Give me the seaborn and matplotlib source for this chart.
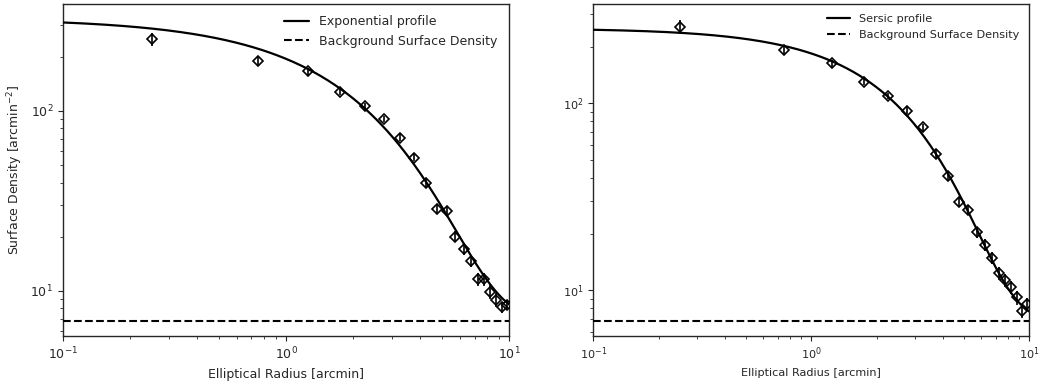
import numpy as np
import pandas as pd
import matplotlib
matplotlib.use("Agg")
import matplotlib.pyplot as plt
import seaborn as sns
from matplotlib.lines import Line2D

# Binned surface-density profile (elliptical radius in arcmin)
radius = [0.25, 0.75, 1.25, 1.75, 2.25, 2.75, 3.25, 3.75, 4.25, 4.75,
          5.25, 5.75, 6.25, 6.75, 7.25, 7.75, 8.25, 8.75, 9.25, 9.75]

density_exp = [251, 189, 166, 127.5, 106, 90.3, 71.1, 55.1, 39.6, 28.6,
               27.7, 20.0, 17.1, 14.6, 11.6, 11.6, 9.9, 8.9, 8.1, 8.4]
err_exp = [20, 10, 7, 5.5, 4.5, 3.8, 3.2, 2.7, 2.2, 1.8,
           1.7, 1.4, 1.3, 1.1, 1.0, 0.95, 0.85, 0.8, 0.6, 0.5]

density_ser = [257, 193, 164, 130.5, 109.5, 91.3, 74.3, 53.4, 41, 29.7,
               26.8, 20.5, 17.5, 14.9, 12.3, 11.3, 10.4, 9.15, 7.74, 8.4]
err_ser = [22, 12, 7, 5.5, 4.5, 3.8, 3.2, 2.7, 2.2, 1.8,
           1.7, 1.4, 1.3, 1.1, 1.0, 0.95, 0.85, 0.8, 0.65, 0.65]

# Fitted model parameters
background = 6.85
exp_sigma0, exp_scale = 320.0, 1.88
ser_sigma0, ser_r0, ser_n = 245.0, 2.49, 0.8


def exponential_profile(r):
    return exp_sigma0 * np.exp(-r / exp_scale) + background


def sersic_profile(r):
    return ser_sigma0 * np.exp(-(r / ser_r0) ** (1.0 / ser_n)) + background


sns.set_style("ticks")
plt.rcParams.update({
    "font.family": ["DejaVu Sans"],
    "axes.edgecolor": "0.15",
    "axes.linewidth": 1.0,
    "xtick.major.size": 3.5, "ytick.major.size": 3.5,
    "xtick.minor.size": 2.0, "ytick.minor.size": 2.0,
    "xtick.color": "0.15", "ytick.color": "0.15",
})

fig = plt.figure(figsize=(10.39, 3.85), dpi=100)
ax1 = fig.add_axes([0.0606, 0.1273, 0.4294, 0.8623])
ax2 = fig.add_axes([0.5710, 0.1273, 0.4197, 0.8623])

r_model = np.logspace(-1, 1, 400)

panels = [
    (ax1, density_exp, err_exp, exponential_profile, "Exponential profile",
     (5.62, 393), 9.0, True),
    (ax2, density_ser, err_ser, sersic_profile, "Sersic profile",
     (5.68, 340), 8.1, False),
]

for ax, dens, err, model, label, ylim, fs, show_ylabel in panels:
    df = pd.DataFrame({"radius": radius, "density": dens, "err": err})
    model_df = pd.DataFrame({"radius": r_model, "density": model(r_model)})
    bg_df = pd.DataFrame({"radius": [0.1, 10.0], "density": [background, background]})

    sns.lineplot(data=model_df, x="radius", y="density", ax=ax,
                 color="black", lw=1.6, zorder=3)
    sns.lineplot(data=bg_df, x="radius", y="density", ax=ax,
                 color="black", lw=1.5, linestyle="--", zorder=3)
    ax.errorbar(df["radius"], df["density"], yerr=df["err"], fmt="none",
                ecolor="black", elinewidth=1.2, capsize=0, zorder=4)
    ax.plot(df["radius"], df["density"], linestyle="none", marker="D",
            markersize=5.2, markerfacecolor="none", markeredgecolor="black",
            markeredgewidth=1.2, zorder=5)

    ax.set_xscale("log")
    ax.set_yscale("log")
    ax.set_xlim(0.1, 10)
    ax.set_ylim(*ylim)
    ax.tick_params(labelsize=fs, colors="0.15")
    ax.set_xlabel("Elliptical Radius [arcmin]", fontsize=fs, color="0.15")
    if show_ylabel:
        ax.set_ylabel("Surface Density [arcmin$^{-2}$]", fontsize=fs, color="0.15")
    else:
        ax.set_ylabel("")

    handles = [Line2D([], [], color="black", lw=1.6),
               Line2D([], [], color="black", lw=1.5, linestyle="--")]
    ax.legend(handles, [label, "Background Surface Density"], loc="upper right",
              frameon=False, fontsize=fs)
    for sp in ax.spines.values():
        sp.set_visible(True)

fig.savefig("out.png", dpi=100)
